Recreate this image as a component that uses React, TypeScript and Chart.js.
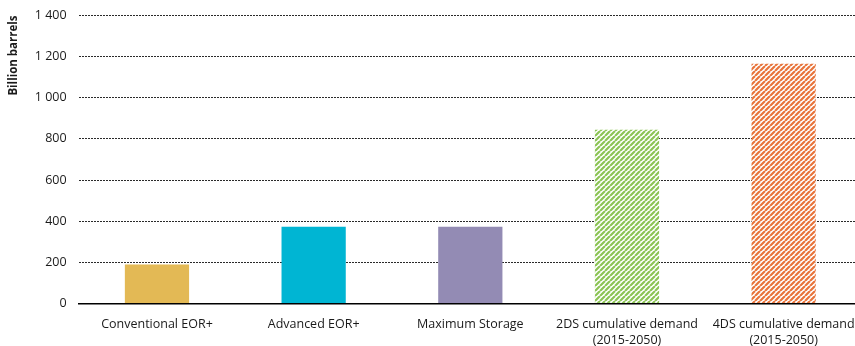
import React, { useEffect, useRef } from "react";
import { Chart, registerables } from "chart.js";

Chart.register(...registerables);

const categories: (string | string[])[] = [
  "Conventional EOR+",
  "Advanced EOR+",
  "Maximum Storage",
  ["2DS cumulative demand", "(2015-2050)"],
  ["4DS cumulative demand", "(2015-2050)"],
];
const values = [190, 373, 373, 845, 1165];
const barColors = ["#e3b955", "#00b5d3", "#938bb4", "#8cc455", "#e8743b"];
const hatched = [false, false, false, true, true];
const yTicks = [0, 200, 400, 600, 800, 1000, 1200, 1400];

function stripes(color: string): CanvasPattern | string {
  const size = 5;
  const c = document.createElement("canvas");
  c.width = size;
  c.height = size;
  const g = c.getContext("2d");
  if (!g) return color;
  g.fillStyle = "#ffffff";
  g.fillRect(0, 0, size, size);
  g.strokeStyle = color;
  g.lineWidth = 2.2;
  g.beginPath();
  for (let o = -size; o <= size; o += size) {
    g.moveTo(o, size);
    g.lineTo(o + size, 0);
  }
  g.stroke();
  return g.createPattern(c, "repeat") ?? color;
}

function fmt(v: number): string {
  return v >= 1000 ? `${Math.floor(v / 1000)} ${String(v % 1000).padStart(3, "0")}` : String(v);
}

const FONT = "Open Sans";

export default function App() {
  const ref = useRef<HTMLCanvasElement>(null);

  useEffect(() => {
    if (!ref.current) return;
    const fills = barColors.map((c, i) => (hatched[i] ? stripes(c) : c));
    const chart = new Chart(ref.current, {
      type: "bar",
      data: {
        labels: categories,
        datasets: [
          {
            data: values,
            backgroundColor: fills as any,
            borderWidth: 0,
            categoryPercentage: 1,
            barPercentage: 0.41,
          },
        ],
      },
      options: {
        animation: false,
        responsive: false,
        maintainAspectRatio: false,
        layout: { padding: { top: 0, right: 0, bottom: 0, left: 7 } },
        plugins: { legend: { display: false }, tooltip: { enabled: false } },
        scales: {
          x: {
            grid: { display: false },
            border: { display: true, color: "#000000", width: 1.5 },
            ticks: {
              color: "#1a1a1a",
              font: { family: FONT, size: 12.5, lineHeight: 1.3 },
              maxRotation: 0,
              autoSkip: false,
              padding: 5,
            },
          },
          y: {
            min: 0,
            max: 1400,
            afterBuildTicks: (axis: any) => {
              axis.ticks = yTicks.map((v) => ({ value: v }));
            },
            grid: { color: "#2a2a2a", lineWidth: 1, drawTicks: false },
            border: { display: false, dash: [2, 1] },
            ticks: {
              color: "#1a1a1a",
              font: { family: FONT, size: 12.5 },
              padding: 12,
              callback: (v: any) => fmt(Number(v)),
            },
            title: {
              display: true,
              text: "Billion barrels",
              align: "end",
              color: "#1a1a1a",
              font: { family: FONT, size: 11.5, weight: "bold" },
              padding: { top: 0, bottom: 2 },
            },
          },
        },
      },
    });
    return () => chart.destroy();
  }, []);

  return (
    <div
      style={{
        position: "fixed",
        left: 0,
        top: 0,
        width: 855,
        height: 346,
        overflow: "hidden",
        background: "#fff",
      }}
    >
      <canvas
        ref={ref}
        width={862}
        height={358}
        style={{ display: "block", marginTop: -4 }}
      />
    </div>
  );
}
